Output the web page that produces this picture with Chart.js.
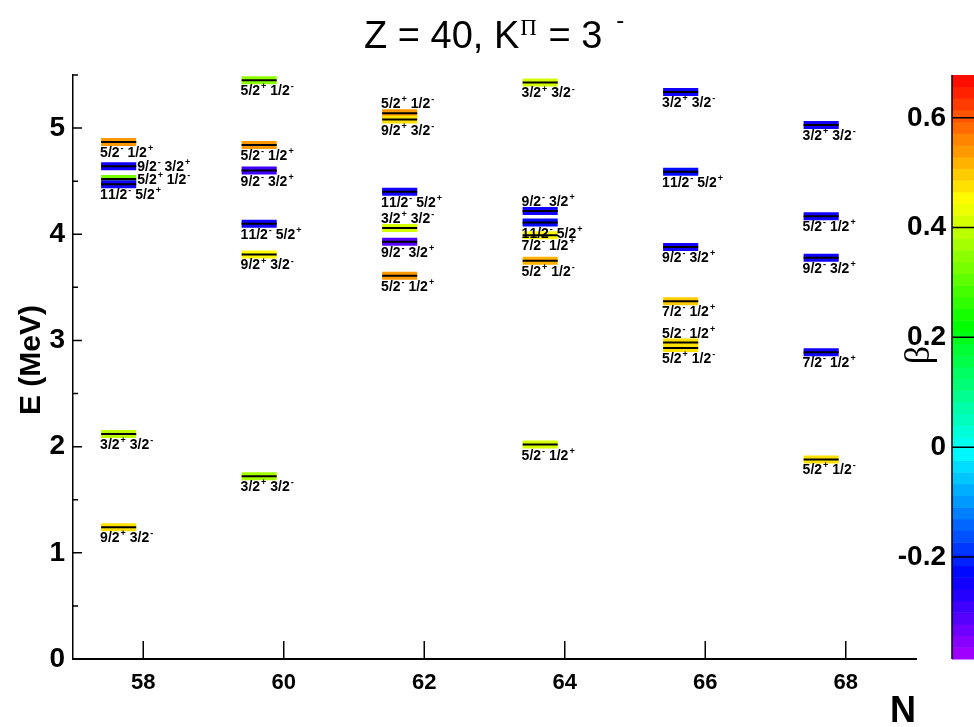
<!DOCTYPE html>
<html>
<head>
<meta charset="utf-8">
<title>Z = 40, K^Π = 3^-</title>
<script src="https://cdn.jsdelivr.net/npm/chart.js@4.4.1/dist/chart.umd.min.js"></script>
<style>
  html, body { margin: 0; padding: 0; background: #fff; }
  #wrap { width: 974px; height: 727px; }
</style>
</head>
<body>
<div id="wrap"><canvas id="niveis" width="974" height="727"></canvas></div>
<script>
// eixos
const nTicks = [58, 60, 62, 64, 66, 68];
const eTicks = [0, 1, 2, 3, 4, 5];
const betaTicks = [-0.2, 0, 0.2, 0.4, 0.6];

// niveis (N, energia em MeV, deformacao beta, configuracao)
const levelN = [
  58, 58, 58, 58, 58, 58,
  60, 60, 60, 60, 60, 60,
  62, 62, 62, 62, 62, 62,
  64, 64, 64, 64, 64, 64,
  66, 66, 66, 66, 66, 66,
  68, 68, 68, 68, 68
];
const levelE = [
  4.87, 4.64, 4.52, 4.47, 2.12, 1.24,
  5.45, 4.84, 4.60, 4.10, 3.81, 1.72,
  5.14, 5.08, 4.40, 4.06, 3.93, 3.61,
  5.43, 4.22, 4.11, 3.99, 3.75, 2.02,
  5.34, 4.59, 3.88, 3.37, 2.98, 2.93,
  5.03, 4.17, 3.78, 2.89, 1.88
];
const levelBeta = [
  0.54, -0.24, 0.32, -0.24, 0.40, 0.48,
  0.34, 0.54, -0.28, -0.24, 0.46, 0.38,
  0.54, 0.47, -0.24, 0.41, -0.32, 0.53,
  0.41, -0.24, -0.23, 0.46, 0.52, 0.41,
  -0.24, -0.23, -0.24, 0.49, 0.48, 0.47,
  -0.24, -0.24, -0.24, -0.24, 0.47
];
const levelLabel = [
  "5/2^- 1/2^+", "9/2^- 3/2^+", "5/2^+ 1/2^-", "11/2^- 5/2^+", "3/2^+ 3/2^-", "9/2^+ 3/2^-",
  "5/2^+ 1/2^-", "5/2^- 1/2^+", "9/2^- 3/2^+", "11/2^- 5/2^+", "9/2^+ 3/2^-", "3/2^+ 3/2^-",
  "5/2^+ 1/2^-", "9/2^+ 3/2^-", "11/2^- 5/2^+", "3/2^+ 3/2^-", "9/2^- 3/2^+", "5/2^- 1/2^+",
  "3/2^+ 3/2^-", "9/2^- 3/2^+", "11/2^- 5/2^+", "7/2^- 1/2^+", "5/2^+ 1/2^-", "5/2^- 1/2^+",
  "3/2^+ 3/2^-", "11/2^- 5/2^+", "9/2^- 3/2^+", "7/2^- 1/2^+", "5/2^- 1/2^+", "5/2^+ 1/2^-",
  "3/2^+ 3/2^-", "5/2^- 1/2^+", "9/2^- 3/2^+", "7/2^- 1/2^+", "5/2^+ 1/2^-"
];
// onde fica o rotulo de cada nivel (layout)
const labelPlace = [
  "below", "right", "right", "below", "below", "below",
  "below", "below", "below", "below", "below", "below",
  "above", "below", "below", "above", "below", "below",
  "below", "above", "below", "below", "below", "below",
  "below", "below", "below", "below", "above", "below",
  "below", "below", "below", "below", "below"
];

const BETA_MIN = -0.386, BETA_MAX = 0.678;
const BAR_INI = -0.6, BAR_FIM = -0.1;
const FONTE = '"Liberation Sans", Arial, Helvetica, sans-serif';

// paleta arco-iris (violeta -> vermelho), 50 faixas
function corBeta(b) {
    let t = (b - BETA_MIN) / (BETA_MAX - BETA_MIN);
    t = Math.min(0.999, Math.max(0, t));
    t = (Math.floor(t * 50) + 0.5) / 50;
    return `hsl(${Math.round(280 * (1 - t))}, 100%, 50%)`;
}

// texto com sobrescritos marcados por ^
function textoSup(ctx, str, x, y, tam) {
    let cx = x;
    for (let i = 0; i < str.length; i++) {
        if (str[i] === '^') {
            i++;
            ctx.font = `bold ${Math.round(tam * 0.65)}px ${FONTE}`;
            ctx.fillText(str[i], cx + 1, y - tam * 0.42);
            cx += ctx.measureText(str[i]).width + 1;
        } else {
            ctx.font = `bold ${tam}px ${FONTE}`;
            ctx.fillText(str[i], cx, y);
            cx += ctx.measureText(str[i]).width;
        }
    }
}

const desenhoExtra = {
    id: 'desenhoExtra',
    afterDraw(chart) {
        const { ctx, chartArea, scales } = chart;
        const sx = scales.x, sy = scales.y, sb = scales.yb;
        ctx.save();
        ctx.fillStyle = '#000';
        ctx.strokeStyle = '#000';
        ctx.textAlign = 'left';
        ctx.textBaseline = 'alphabetic';

        // rotulos dos niveis
        levelE.forEach((e, i) => {
            const yb = sy.getPixelForValue(e);
            const x0 = sx.getPixelForValue(levelN[i] + BAR_INI);
            const x1 = sx.getPixelForValue(levelN[i] + BAR_FIM);
            if (labelPlace[i] === 'right') textoSup(ctx, levelLabel[i], x1 + 1, yb + 5, 14);
            else if (labelPlace[i] === 'above') textoSup(ctx, levelLabel[i], x0 - 1, yb - 5, 14);
            else textoSup(ctx, levelLabel[i], x0 - 1, yb + 15, 14);
        });

        // marcas dos eixos (para dentro)
        ctx.lineWidth = 1.5;
        ctx.beginPath();
        nTicks.forEach(v => {
            const px = sx.getPixelForValue(v);
            ctx.moveTo(px, chartArea.bottom);
            ctx.lineTo(px, chartArea.bottom - 18);
        });
        for (let v = 0; v <= 5.5; v += 0.5) {
            const py = sy.getPixelForValue(v);
            const len = Number.isInteger(v) ? 9 : 5;
            ctx.moveTo(chartArea.left, py);
            ctx.lineTo(chartArea.left + len, py);
        }
        ctx.stroke();

        // barra de cores
        const cx0 = 952, cx1 = 974;
        for (let k = 0; k < 50; k++) {
            const v0 = BETA_MIN + (BETA_MAX - BETA_MIN) * k / 50;
            const v1 = BETA_MIN + (BETA_MAX - BETA_MIN) * (k + 1) / 50;
            const p0 = sb.getPixelForValue(v0), p1 = sb.getPixelForValue(v1);
            ctx.fillStyle = corBeta((v0 + v1) / 2);
            ctx.fillRect(cx0, p1, cx1 - cx0, p0 - p1 + 0.5);
        }
        ctx.fillStyle = '#000';
        ctx.lineWidth = 1.5;
        ctx.beginPath();
        ctx.moveTo(cx0, sb.getPixelForValue(BETA_MAX));
        ctx.lineTo(cx0, sb.getPixelForValue(BETA_MIN));
        betaTicks.forEach(v => {
            const py = sb.getPixelForValue(v);
            ctx.moveTo(cx0, py);
            ctx.lineTo(cx1, py);
        });
        ctx.stroke();
        ctx.font = `bold 28px ${FONTE}`;
        ctx.textAlign = 'right';
        ctx.textBaseline = 'middle';
        betaTicks.forEach(v => {
            ctx.fillText(String(v), 946, sb.getPixelForValue(v));
        });

        // beta
        ctx.save();
        ctx.translate(920, 355);
        ctx.rotate(-Math.PI / 2);
        ctx.textAlign = 'center';
        ctx.font = `36px "Liberation Serif", "DejaVu Serif", serif`;
        ctx.fillText('β', 0, 0);
        ctx.restore();

        // titulos dos eixos
        ctx.save();
        ctx.translate(32, 360);
        ctx.rotate(-Math.PI / 2);
        ctx.textAlign = 'center';
        ctx.font = `bold 30px ${FONTE}`;
        ctx.fillText('E (MeV)', 0, 0);
        ctx.restore();
        ctx.textAlign = 'right';
        ctx.textBaseline = 'alphabetic';
        ctx.font = `bold 36px ${FONTE}`;
        ctx.fillText('N', 916, 722);

        // titulo
        ctx.textAlign = 'left';
        let tx = 364;
        ctx.font = `38px ${FONTE}`;
        ctx.fillText('Z = 40, K', tx, 48);
        tx += ctx.measureText('Z = 40, K').width;
        ctx.font = `23px "Liberation Serif", serif`;
        ctx.fillText('Π', tx + 1, 35);
        tx += ctx.measureText('Π').width + 2;
        ctx.font = `38px ${FONTE}`;
        ctx.fillText(' = 3', tx, 48);
        tx += ctx.measureText(' = 3').width;
        ctx.font = `24px ${FONTE}`;
        ctx.fillText('-', tx + 14, 28);
        ctx.restore();
    }
};

// cada nivel: faixa colorida + linha preta
const datasets = [];
levelE.forEach((e, i) => {
    const pts = [{ x: levelN[i] + BAR_INI, y: e }, { x: levelN[i] + BAR_FIM, y: e }];
    datasets.push({ data: pts, borderColor: corBeta(levelBeta[i]), borderWidth: 8 });
    datasets.push({ data: pts, borderColor: '#000', borderWidth: 2 });
});
datasets.reverse(); // o primeiro dataset e desenhado por cima

new Chart(document.getElementById('niveis'), {
    type: 'scatter',
    data: { datasets },
    options: {
        responsive: false,
        animation: false,
        devicePixelRatio: 1,
        showLine: true,
        layout: { padding: { top: 75, right: 58, left: 0, bottom: 0 } },
        elements: { point: { radius: 0, hoverRadius: 0 }, line: { borderCapStyle: 'butt', fill: false } },
        plugins: { legend: { display: false }, tooltip: { enabled: false }, title: { display: false } },
        scales: {
            x: {
                type: 'linear', min: 57, max: 69,
                afterBuildTicks: s => { s.ticks = nTicks.map(v => ({ value: v })); },
                afterFit: s => { s.height = 68; },
                grid: { display: false, drawTicks: false },
                border: { display: true, color: '#000', width: 2 },
                ticks: { color: '#000', padding: 11, maxRotation: 0, font: { family: FONTE, size: 22, weight: 'bold' } }
            },
            y: {
                type: 'linear', min: 0, max: 5.5,
                afterBuildTicks: s => { s.ticks = eTicks.map(v => ({ value: v })); },
                afterFit: s => { s.width = 73; },
                grid: { display: false, drawTicks: false },
                border: { display: true, color: '#000', width: 1.5 },
                ticks: { color: '#000', padding: 8, font: { family: FONTE, size: 28, weight: 'bold' } }
            },
            yb: {
                type: 'linear', position: 'right', display: false,
                min: BETA_MIN, max: BETA_MAX
            }
        }
    },
    plugins: [desenhoExtra]
});
</script>
</body>
</html>
